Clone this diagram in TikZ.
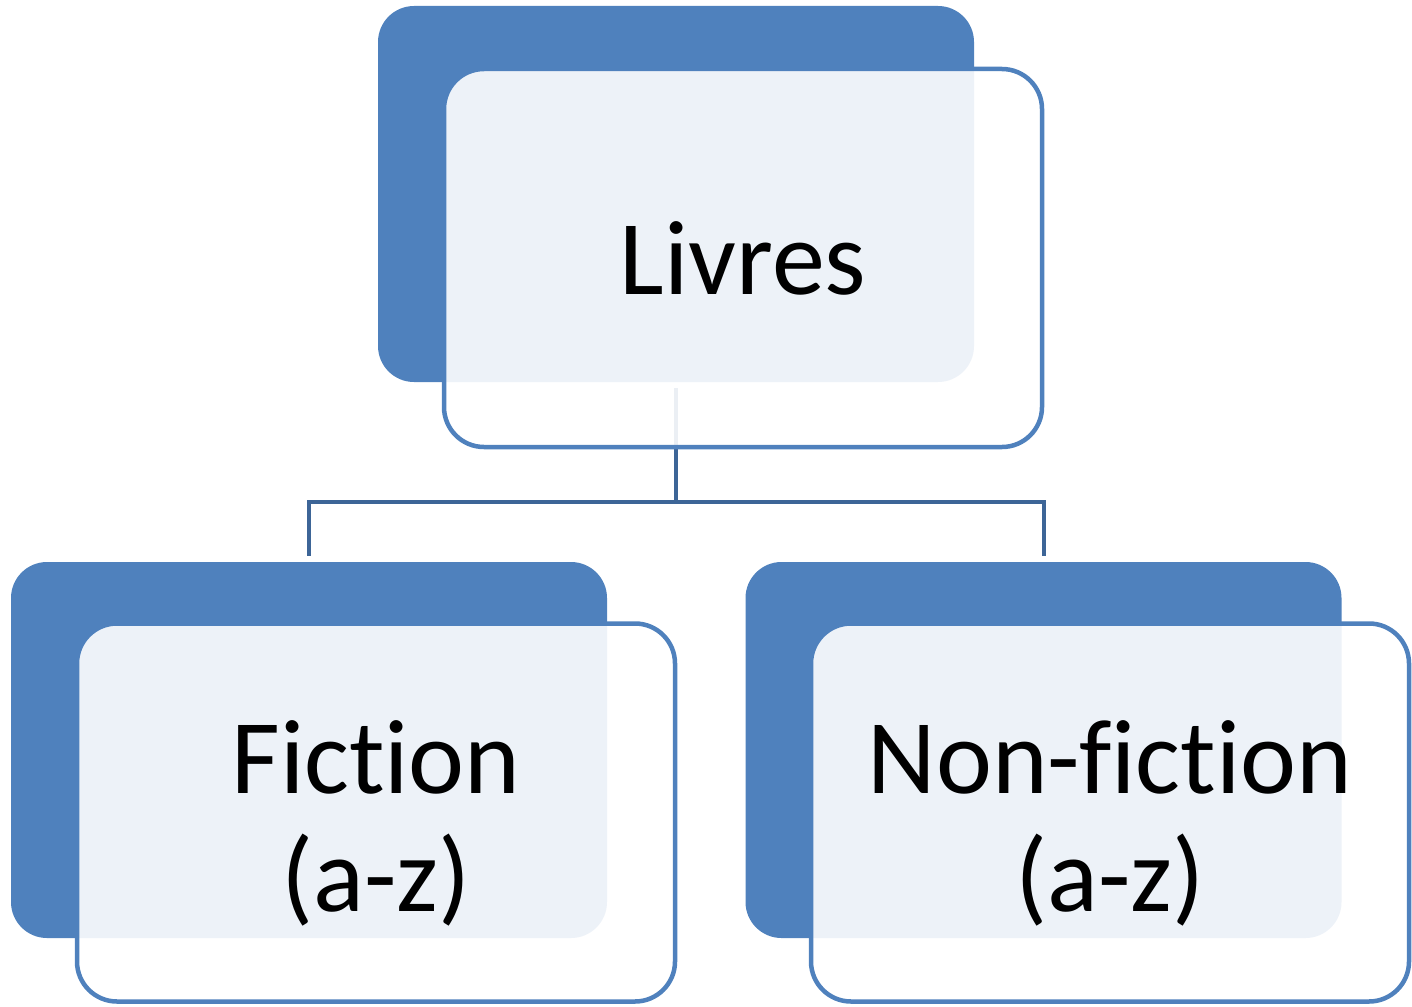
\documentclass[tikz,border=0pt]{standalone}
\usepackage{fontspec}
\setmainfont[Ligatures=NoCommon]{Carlito}
\definecolor{accent}{HTML}{4F81BD}
\definecolor{connc}{HTML}{3D6597}
\begin{document}
\begin{tikzpicture}[x=1pt,y=-1pt,
  backbox/.style={draw=none, fill=accent, rounded corners=36pt, minimum width=596pt, minimum height=376pt, inner sep=0pt},
  frontbox/.style={draw=accent, line width=4.5pt, fill=white, fill opacity=0.9, rounded corners=40pt, minimum width=598pt, minimum height=378pt, inner sep=0pt},
  label/.style={inner sep=0pt, align=center, font=\fontsize{106}{118}\selectfont},
  conn/.style={draw=connc, line width=4pt}]
\useasboundingbox (0,0) rectangle (1412,1006);
\node[backbox] (topB) at (676,194) {};
\node[backbox] (leftB) at (309,750) {};
\node[backbox] (rightB) at (1043.5,750) {};
\coordinate (junction) at (676,502);
\draw[conn] ([yshift=-6pt]topB.south) -- (junction) -| ([yshift=6pt]leftB.north);
\draw[conn] (junction) -| ([yshift=6pt]rightB.north);
\node[frontbox] (top) at (743,258) {};
\node[frontbox] (left) at (376,812.5) {};
\node[frontbox] (right) at (1110,812.5) {};
\node[label] (topT) at ([yshift=0pt]top.center) {Livres};
\node[label] (leftT) at ([yshift=-11pt]left.center) {Fiction\\(a-z)};
\node[label] (rightT) at ([yshift=-11pt]right.center) {Non-fiction\\(a-z)};
\end{tikzpicture}
\end{document}
